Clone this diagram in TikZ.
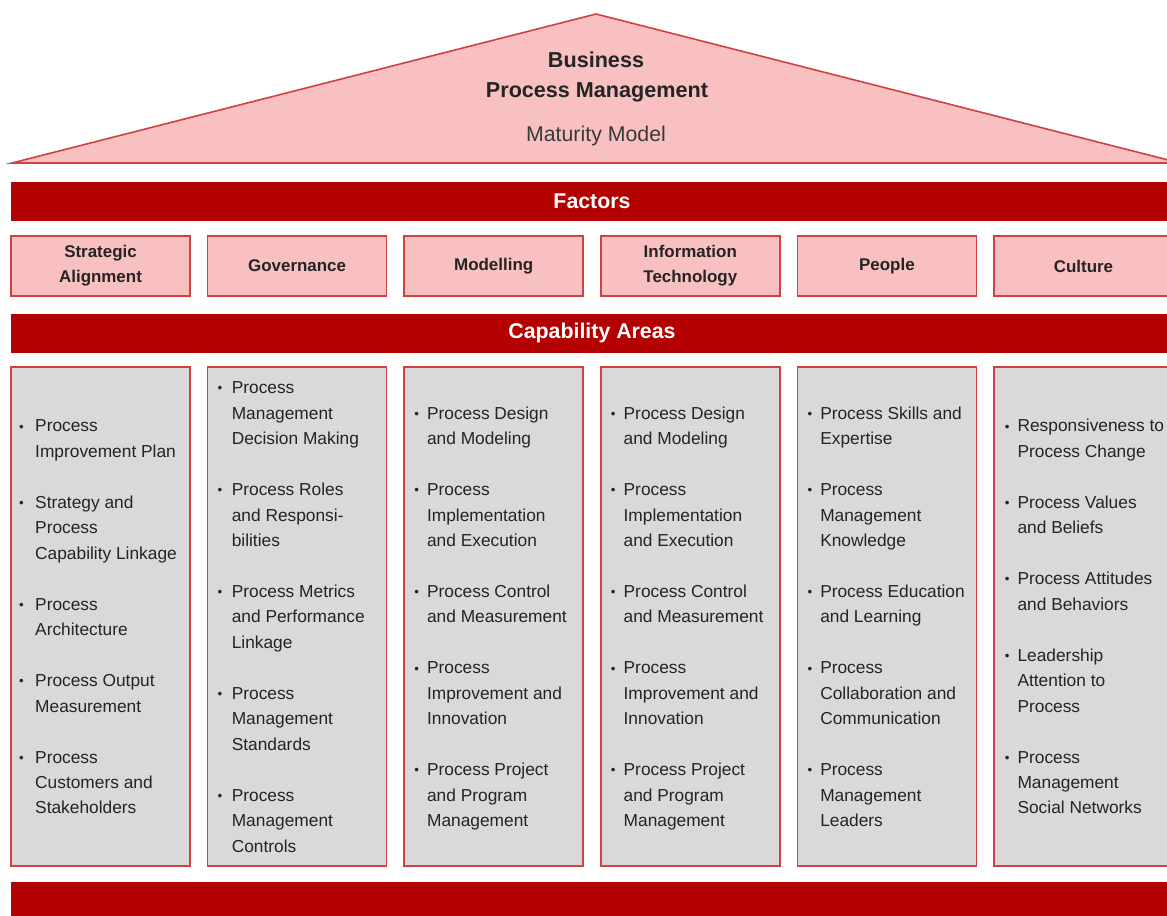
\documentclass[tikz,border=0pt]{standalone}
\usepackage{fontspec}
\setmainfont{Liberation Sans}
\definecolor{barred}{RGB}{179,0,0}
\definecolor{pinkfill}{RGB}{248,192,192}
\definecolor{edgered}{RGB}{208,66,66}
\definecolor{boxgray}{RGB}{217,217,217}
\definecolor{txt}{RGB}{36,36,36}
\newcommand{\ctab}[2]{\begin{tabular}{@{}l@{\hspace{#1}}l@{}}#2\end{tabular}}
\newcommand{\bl}{\makebox[4.6pt][c]{\raisebox{0.6pt}{\fontsize{10}{10}\selectfont\textbullet}}}
\begin{document}
\begin{tikzpicture}[x=0.75pt,y=-0.75pt,
  bar/.style={fill=barred, draw=none, inner sep=0, minimum width={1162*0.75pt}, minimum height={39*0.75pt}, text=white, font=\fontsize{16}{19}\selectfont\bfseries},
  factor/.style={fill=pinkfill, draw=edgered, line width=1.3pt, minimum width={179*0.75pt}, minimum height={60*0.75pt}, inner sep=0, align=center, text=txt, font=\fontsize{12.7}{18.8}\selectfont\bfseries},
  capbox/.style={fill=boxgray, draw=edgered, line width=1.3pt, minimum width={179*0.75pt}, minimum height={499*0.75pt}, inner sep=0},
  captext/.style={anchor=west, inner sep=0, text=txt, font=\fontsize{13}{19.1}\selectfont},
  roof/.style={fill=pinkfill, draw=edgered, line width=1.2pt, line join=miter},
  title/.style={inner sep=0, text=txt, font=\fontsize{16.2}{19}\selectfont\bfseries},
  subtitle/.style={inner sep=0, text={rgb,255:red,58;green,58;blue,58}, font=\fontsize{16}{19}\selectfont},
]
\useasboundingbox (0,0) rectangle (1167,915);
\clip (0,0) rectangle (1167,915);

% roof
\draw[roof] (12,163) -- (596,14) -- (1180,163) -- cycle;
\node[title] (t1) at (596,60) {Business};
\node[title] (t2) at (597,92) {Process Management};
\node[subtitle] (t3) at (596,135.5) {Maturity Model};

% bars
\node[bar] (factors) at (592,201) {Factors};
\node[bar] (capareas) at (592,333) {Capability Areas};
\node[bar, minimum height={45*0.75pt}] (bottombar) at (592,904.5) {};

% factor boxes
\node[factor] (f1) at (100.5,266) {Strategic\\Alignment};
\node[factor] (f2) at (297.1,266) {Governance};
\node[factor] (f3) at (493.7,266) {Modelling};
\node[factor] (f4) at (690.3,266) {Information\\Technology};
\node[factor] (f5) at (886.9,266) {People};
\node[factor] (f6) at (1083.5,266) {Culture};

% capability boxes
\node[capbox] (c1) at (100.5,616.5) {};
\node[capbox] (c2) at (297.1,616.5) {};
\node[capbox] (c3) at (493.7,616.5) {};
\node[capbox] (c4) at (690.3,616.5) {};
\node[capbox] (c5) at (886.9,616.5) {};
\node[capbox] (c6) at (1083.5,616.5) {};

\node[captext, xshift=6pt, yshift=-1pt] (l1) at (c1.west) {\ctab{8pt}{%
\bl & Process\\
 & Improvement Plan\\
 & \\
\bl & Strategy and\\
 & Process\\
 & Capability Linkage\\
 & \\
\bl & Process\\
 & Architecture\\
 & \\
\bl & Process Output\\
 & Measurement\\
 & \\
\bl & Process\\
 & Customers and\\
 & Stakeholders}};

\node[captext, xshift=7.5pt, yshift=-1pt] (l2) at (c2.west) {\ctab{6.5pt}{%
\bl & Process\\
 & Management\\
 & Decision Making\\
 & \\
\bl & Process Roles\\
 & and Responsi-\\
 & bilities\\
 & \\
\bl & Process Metrics\\
 & and Performance\\
 & Linkage\\
 & \\
\bl & Process\\
 & Management\\
 & Standards\\
 & \\
\bl & Process\\
 & Management\\
 & Controls}};

\node[captext, xshift=7.5pt, yshift=-1pt] (l3) at (c3.west) {\ctab{5.5pt}{%
\bl & Process Design\\
 & and Modeling\\
 & \\
\bl & Process\\
 & Implementation\\
 & and Execution\\
 & \\
\bl & Process Control\\
 & and Measurement\\
 & \\
\bl & Process\\
 & Improvement and\\
 & Innovation\\
 & \\
\bl & Process Project\\
 & and Program\\
 & Management}};

\node[captext, xshift=7.5pt, yshift=-1pt] (l4) at (c4.west) {\ctab{5.5pt}{%
\bl & Process Design\\
 & and Modeling\\
 & \\
\bl & Process\\
 & Implementation\\
 & and Execution\\
 & \\
\bl & Process Control\\
 & and Measurement\\
 & \\
\bl & Process\\
 & Improvement and\\
 & Innovation\\
 & \\
\bl & Process Project\\
 & and Program\\
 & Management}};

\node[captext, xshift=7.5pt, yshift=-1pt] (l5) at (c5.west) {\ctab{5.5pt}{%
\bl & Process Skills and\\
 & Expertise\\
 & \\
\bl & Process\\
 & Management\\
 & Knowledge\\
 & \\
\bl & Process Education\\
 & and Learning\\
 & \\
\bl & Process\\
 & Collaboration and\\
 & Communication\\
 & \\
\bl & Process\\
 & Management\\
 & Leaders}};

\node[captext, xshift=8pt, yshift=-1pt] (l6) at (c6.west) {\ctab{5.5pt}{%
\bl & Responsiveness to\\
 & Process Change\\
 & \\
\bl & Process Values\\
 & and Beliefs\\
 & \\
\bl & Process Attitudes\\
 & and Behaviors\\
 & \\
\bl & Leadership\\
 & Attention to\\
 & Process\\
 & \\
\bl & Process\\
 & Management\\
 & Social Networks}};
\end{tikzpicture}
\end{document}
